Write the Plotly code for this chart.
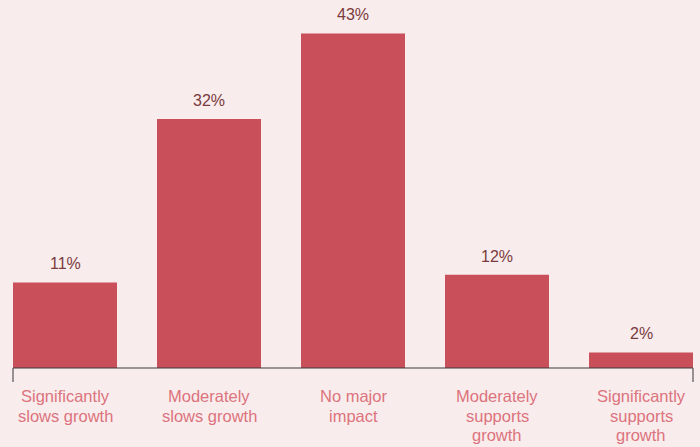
import plotly.graph_objects as go

categories = [
    "Significantly<br>slows growth",
    "Moderately<br>slows growth",
    "No major<br>impact",
    "Moderately<br>supports<br>growth",
    "Significantly<br>supports<br>growth",
]
values = [11, 32, 43, 12, 2]
value_labels = ["11%", "32%", "43%", "12%", "2%"]

BG = "#f9ecec"
BAR = "#c94f5a"
LABEL_DARK = "#7a3b3e"
LABEL_PINK = "#dc737d"
FONT = "Liberation Sans, Arial, sans-serif"

x_idx = list(range(len(categories)))

fig = go.Figure(
    go.Bar(
        x=x_idx,
        y=values,
        marker=dict(color=BAR, line=dict(width=0)),
        width=104 / 144,
        hoverinfo="skip",
    )
)

# value labels above each bar
for i, (v, t) in enumerate(zip(values, value_labels)):
    fig.add_annotation(
        x=i, y=v, text=t, showarrow=False,
        yanchor="bottom", yshift=8,
        font=dict(family=FONT, size=16, color=LABEL_DARK),
    )

# category labels under the axis, one annotation per line for tight leading
LINE_PITCH = 19.5
for i, c in enumerate(categories):
    for k, line in enumerate(c.split("<br>")):
        fig.add_annotation(
            x=i, y=0, yref="y", text=line, showarrow=False,
            yanchor="middle", yshift=-(28 + k * LINE_PITCH),
            font=dict(family=FONT, size=16.5, color=LABEL_PINK),
        )

# baseline with end ticks
fig.add_shape(type="line", xref="paper", yref="paper", x0=0, x1=1, y0=0, y1=0,
              line=dict(color="#3a3a3a", width=1.2))
for xp in (0, 1):
    fig.add_shape(type="line", xref="paper", yref="paper", x0=xp, x1=xp,
                  y0=0, y1=-14 / 368, line=dict(color="#555555", width=1.2))

half = 52 / 144
fig.update_layout(
    width=700, height=447,
    margin=dict(l=13, r=7, t=0, b=79),
    paper_bgcolor=BG, plot_bgcolor=BG,
    showlegend=False,
    xaxis=dict(range=[-half, len(categories) - 1 + half], showticklabels=False,
               showgrid=False, zeroline=False, showline=False, ticks=""),
    yaxis=dict(range=[0, 368 / 7.78], visible=False, showgrid=False, zeroline=False),
    font=dict(family=FONT),
)

fig.write_html("out.html")
